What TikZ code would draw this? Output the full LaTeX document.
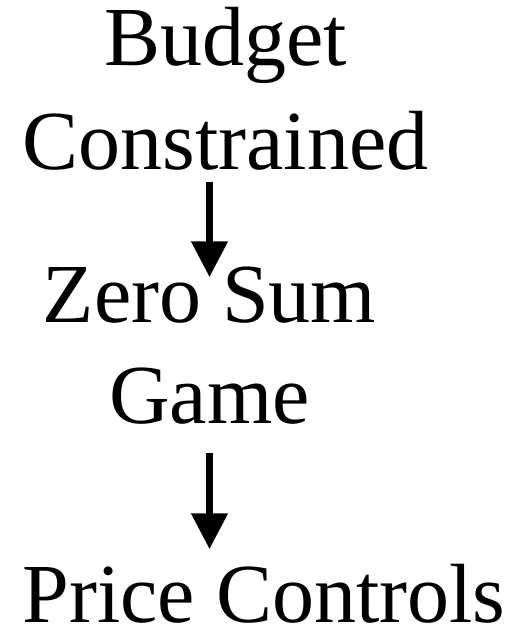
\documentclass[tikz,border=0pt]{standalone}
\usepackage{fontspec}
\setmainfont{Liberation Serif}
\usetikzlibrary{arrows.meta}
\tikzset{
	stage/.style={font=\fontsize{84}{#1}\selectfont, align=center, inner sep=0pt, anchor=base},
	stage/.default=102,
	flow/.style={line width=7.6pt, -{Triangle[length=36pt,width=35pt]}}
}
\begin{document}
\begin{tikzpicture}[x=1pt,y=1pt]
	\useasboundingbox (0,0) rectangle (531,630);
	\node[stage=104] (budget) at (225.5,460) {Budget\\Constrained};
	\node[stage=101] (zerosum) at (209.5,206) {Zero Sum\\Game};
	\node[stage] (price) at (264,7) {Price Controls};
	
	\draw[flow, shorten <=12pt] (budget.base -| zerosum.base) -- ([yshift=146.7pt]zerosum.base);
	\draw[flow, shorten <=29.3pt] (zerosum.base) -- ([yshift=73.7pt]price.base -| zerosum.base);
\end{tikzpicture}
\end{document}
